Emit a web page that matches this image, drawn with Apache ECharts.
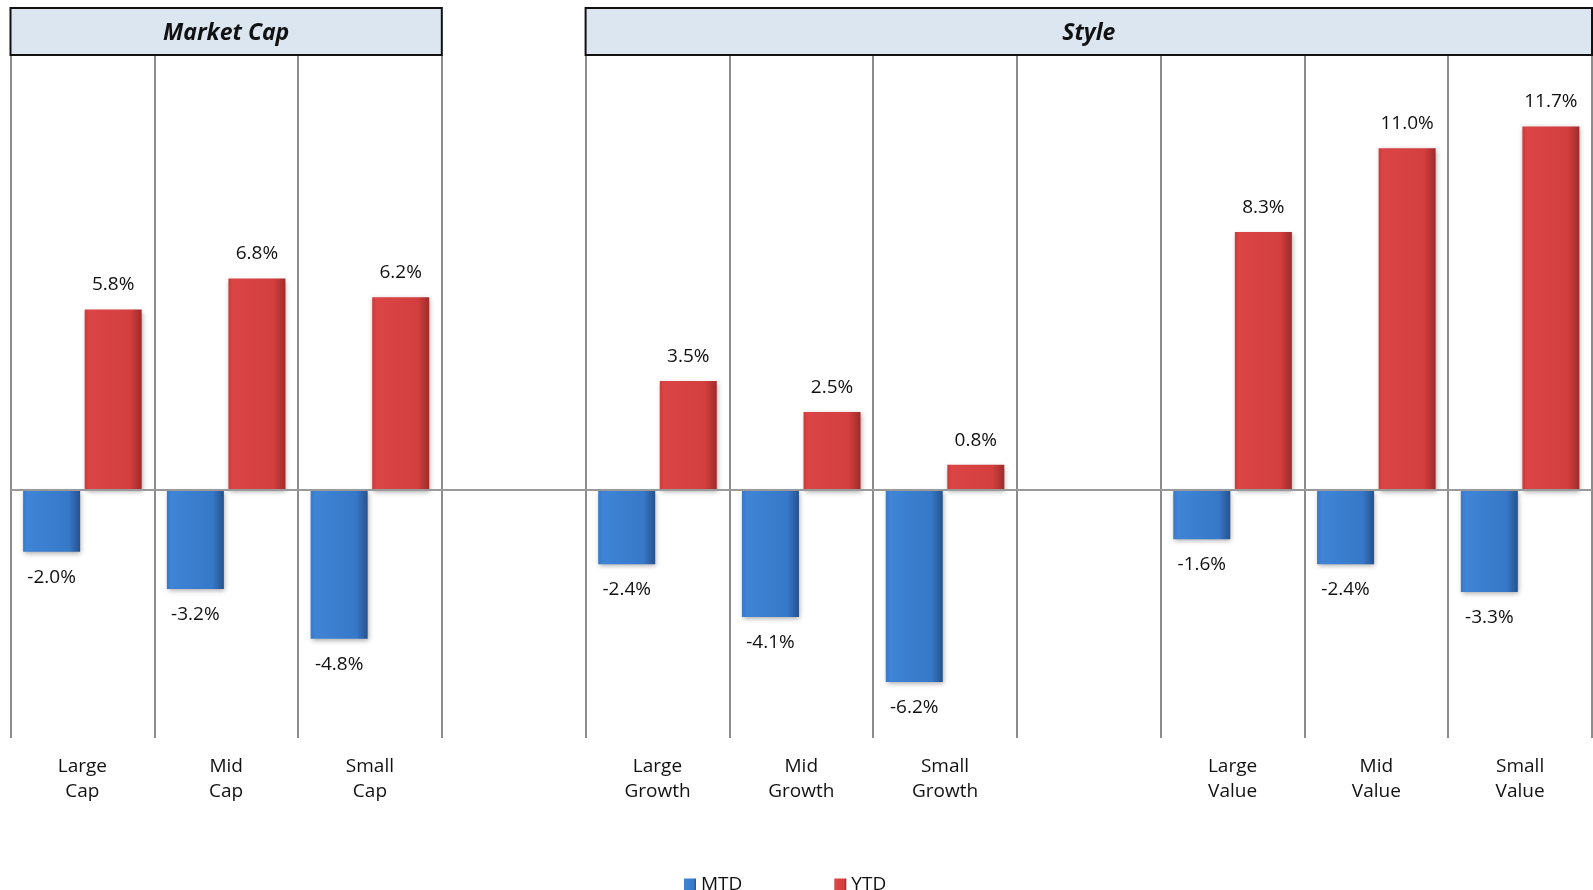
<!DOCTYPE html>
<html>
<head>
<meta charset="utf-8">
<script src="https://cdn.jsdelivr.net/npm/echarts@6/dist/echarts.min.js"></script>
<style>
html,body{margin:0;padding:0;background:#fff;}
#main{width:1593px;height:890px;}
</style>
</head>
<body>
<div id="main"></div>
<script>
const categories = ['Large\nCap','Mid\nCap','Small\nCap','','Large\nGrowth','Mid\nGrowth','Small\nGrowth','','Large\nValue','Mid\nValue','Small\nValue'];
const mtdValues = [-2.0,-3.2,-4.8,null,-2.4,-4.1,-6.2,null,-1.6,-2.4,-3.3];
const ytdValues = [5.8,6.8,6.2,null,3.5,2.5,0.8,null,8.3,11.0,11.7];
const seriesNames = ['MTD','YTD'];
const groupHeaders = [
  {name:'Market Cap', from:0, to:2},
  {name:'Style', from:4, to:10}
];

const FONT = '"Open Sans", sans-serif';
const chart = echarts.init(document.getElementById('main'));

const blueFill = new echarts.graphic.LinearGradient(0,0,1,0,[
  {offset:0,color:'#3a78c6'},{offset:0.08,color:'#3f84d6'},
  {offset:0.8,color:'#3778c8'},{offset:1,color:'#25528e'}]);
const redFill = new echarts.graphic.LinearGradient(0,0,1,0,[
  {offset:0,color:'#cc3a3a'},{offset:0.08,color:'#dc4545'},
  {offset:0.8,color:'#d33e3e'},{offset:1,color:'#9e2b2b'}]);

const fmt = p => p.value == null ? '' : p.value.toFixed(1) + '%';

chart.setOption({
  animation:false,
  backgroundColor:'#fff',
  grid:{left:10.5,right:1,top:55,bottom:152,containLabel:false},
  legend:{
    data:seriesNames, left:679, top:870, icon:'rect', itemWidth:12, itemHeight:12,
    itemGap:92, textStyle:{fontFamily:FONT,fontSize:19,color:'#111'}
  },
  xAxis:{
    type:'category', data:categories, boundaryGap:true,
    axisLine:{show:false}, axisTick:{show:false},
    splitLine:{show:true, interval:0, lineStyle:{color:'#8c8c8c',width:2}},
    axisLabel:{interval:0, margin:16, fontFamily:FONT, fontSize:19, lineHeight:25, color:'#111'}
  },
  yAxis:{type:'value', min:-8, max:14, show:false, splitLine:{show:false}},
  series:[
    {
      name:'MTD', type:'bar', data:mtdValues, barWidth:57, barGap:'8%',
      itemStyle:{color:blueFill, shadowBlur:5, shadowColor:'rgba(0,0,0,0.35)', shadowOffsetY:2, shadowOffsetX:1},
      label:{show:true, position:'bottom', distance:16, formatter:fmt, fontFamily:FONT, fontSize:19, color:'#111'},
      markLine:{silent:true, symbol:'none', label:{show:false},
        lineStyle:{color:'#9a9a9a',width:2,type:'solid'}, data:[{yAxis:0}]}
    },
    {
      name:'YTD', type:'bar', data:ytdValues, barWidth:57, barGap:'8%',
      itemStyle:{color:redFill, shadowBlur:5, shadowColor:'rgba(0,0,0,0.35)', shadowOffsetY:2, shadowOffsetX:1},
      label:{show:true, position:'top', distance:15, formatter:fmt, fontFamily:FONT, fontSize:19, color:'#111'}
    }
  ]
});

// header boxes positioned from the category axis
const grid = chart.getModel().getComponent('grid').coordinateSystem.getRect();
const band = grid.width / categories.length;
const graphics = groupHeaders.map(h => {
  const c0 = chart.convertToPixel({xAxisIndex:0}, h.from);
  const c1 = chart.convertToPixel({xAxisIndex:0}, h.to);
  const x0 = c0 - band/2, x1 = c1 + band/2;
  return {
    type:'group', children:[
      {type:'rect', shape:{x:x0, y:8, width:x1-x0, height:47},
       style:{fill:'#dce6f1', stroke:'#111', lineWidth:2}, z:10},
      {type:'text', x:(x0+x1)/2, y:33.5, z:11,
       style:{text:h.name, fill:'#111', font:'italic bold 23px "Open Sans", sans-serif', align:'center', verticalAlign:'middle'}}
    ]
  };
});
chart.setOption({graphic:graphics});
</script>
</body>
</html>
